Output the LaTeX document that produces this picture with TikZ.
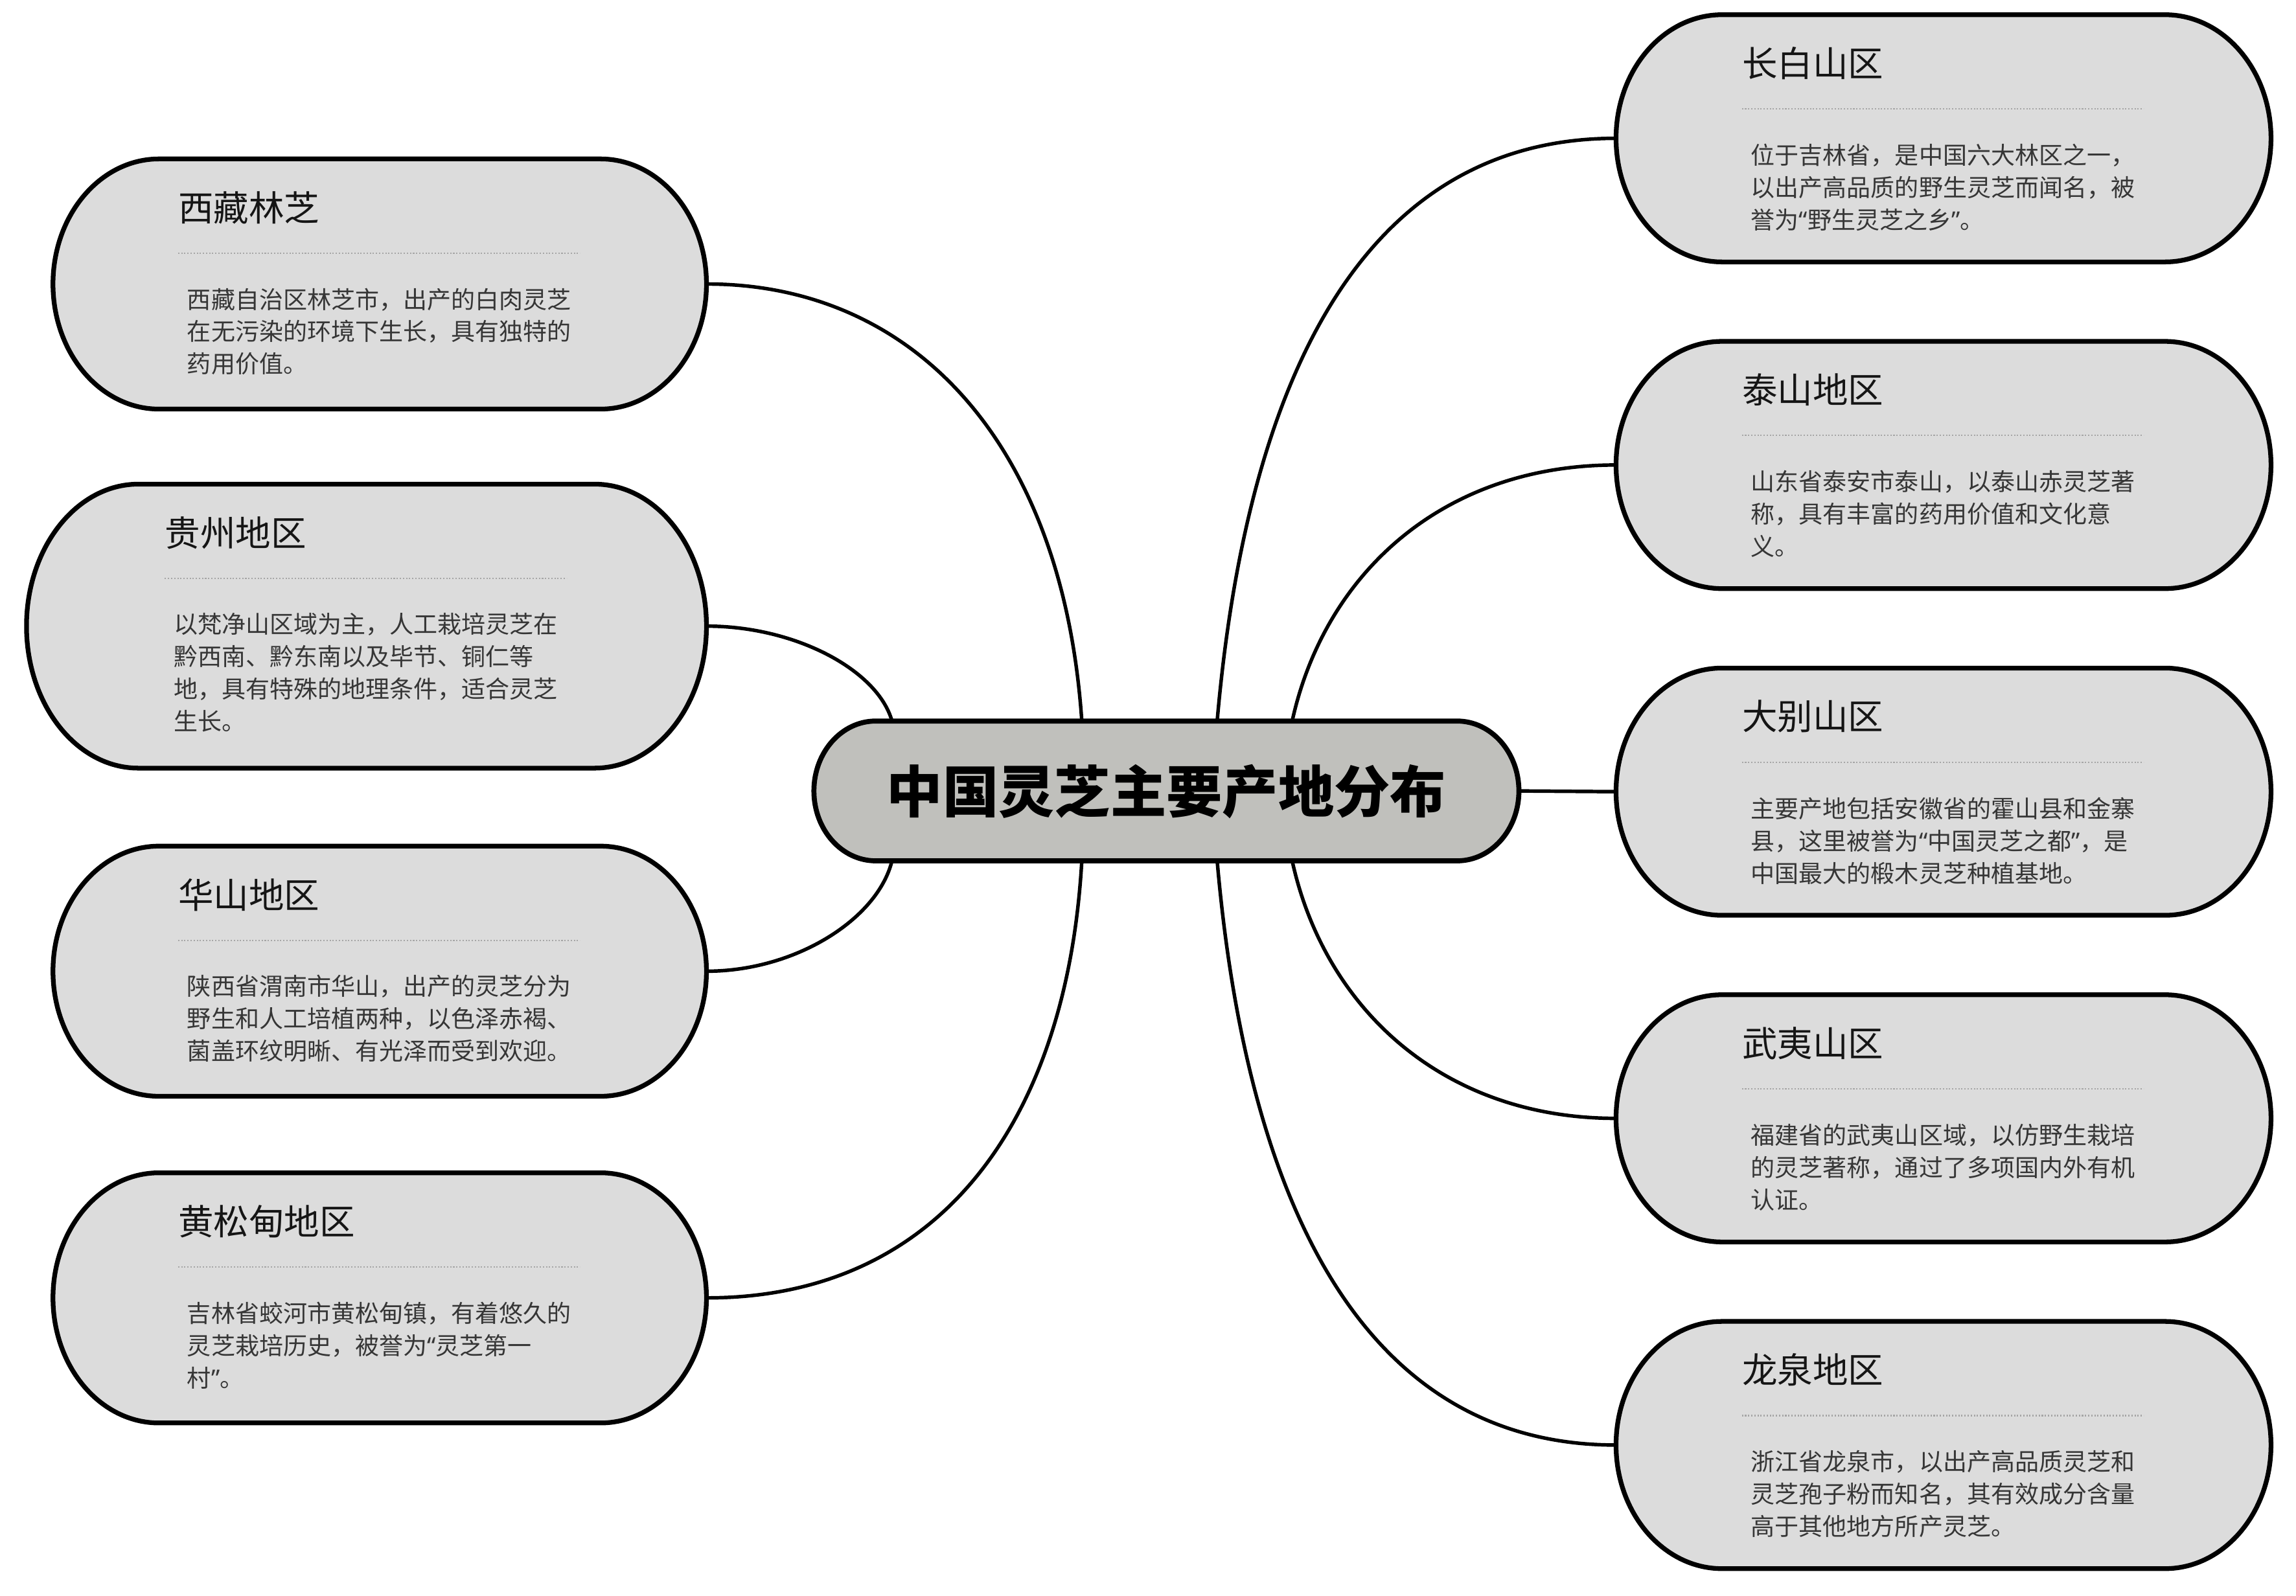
\documentclass[tikz,border=0pt]{standalone}
\usepackage{fontspec}
\setmainfont{Noto Sans CJK SC}
\newfontfamily\quotefont{Noto Sans}
\newcommand\lqm{{\quotefont “}}
\newcommand\rqm{{\quotefont ”}}
\definecolor{boxfill}{HTML}{DCDCDC}
\definecolor{cfill}{HTML}{C0C0BC}
\definecolor{bodycol}{HTML}{363636}
\definecolor{titlecol}{HTML}{151515}
\definecolor{dotcol}{HTML}{A5A5A5}
\tikzset{
  boxline/.style={draw=black, line width=3.2pt, fill=boxfill},
  centerline/.style={draw=black, line width=3.4pt, fill=cfill},
  conn/.style={draw=black, line width=2.4pt},
  anchorbox/.style={draw=none, inner sep=0pt, shape=rectangle},
  titletext/.style={font=\fontsize{24}{28}\selectfont, text=titlecol, inner sep=0pt, anchor=west},
  bodytext/.style={font=\fontsize{16.3}{22}\selectfont, text=bodycol, inner sep=0pt, anchor=north west, align=left},
  dotline/.style={draw=dotcol, line width=0.9pt, dash pattern=on 0.9pt off 1.2pt},
  maintext/.style={font=\fontsize{38}{44}\selectfont\bfseries, text=black, inner sep=0pt},
}
% name, style, x1, y1, x2, y2, end radius
\newcommand\stadiumbox[7]{%
  \node[anchorbox, minimum width={(#5-#3)*1pt}, minimum height={(#6-#4)*1pt}] (#1) at ({(#3+#5)/2},{-(#4+#6)/2}) {};
  \path[#2] ({#3+#7},{-#4}) -- ({#5-#7},{-#4})
    arc[start angle=90, end angle=-90, x radius=#7, y radius={(#6-#4)/2}]
    -- ({#3+#7},{-#6})
    arc[start angle=270, end angle=90, x radius=#7, y radius={(#6-#4)/2}]
    -- cycle;
}
% name, centre x, top, title, body
\newcommand\boxtext[5]{%
  \node[titletext] (#1t) at ({#2-137},{-(#3+33)}) {#4};
  \draw[dotline] ({#2-137},{-(#3+64)}) -- ({#2+136},{-(#3+64)});
  \node[bodytext] (#1b) at ({#2-131},{-(#3+87.5)}) {#5};
}
\begin{document}
\begin{tikzpicture}[x=1pt, y=1pt]
\useasboundingbox (0,0) rectangle (1560,-1084.2);

% centre
\stadiumbox{c}{centerline}{553}{490}{1032}{585}{42}
\node[maintext] (ct) at (792.5,-538) {中国灵芝主要产地分布};

% left boxes
\stadiumbox{b1}{boxline}{36}{108}{480}{278}{72}
\boxtext{b1}{258}{108}{西藏林芝}{西藏自治区林芝市，出产的白肉灵芝\\在无污染的环境下生长，具有独特的\\药用价值。}

\stadiumbox{b2}{boxline}{18}{329}{480}{522}{76}
\boxtext{b2}{249}{329}{贵州地区}{以梵净山区域为主，人工栽培灵芝在\\黔西南、黔东南以及毕节、铜仁等\\地，具有特殊的地理条件，适合灵芝\\生长。}

\stadiumbox{b3}{boxline}{36}{575}{480}{745}{72}
\boxtext{b3}{258}{575}{华山地区}{陕西省渭南市华山，出产的灵芝分为\\野生和人工培植两种，以色泽赤褐、\\菌盖环纹明晰、有光泽而受到欢迎。}

\stadiumbox{b4}{boxline}{36}{797}{480}{967}{72}
\boxtext{b4}{258}{797}{黄松甸地区}{吉林省蛟河市黄松甸镇，有着悠久的\\灵芝栽培历史，被誉为\lqm 灵芝第一\\村\rqm 。}

% right boxes
\stadiumbox{r1}{boxline}{1098}{10}{1543}{178}{72}
\boxtext{r1}{1320.5}{10}{长白山区}{位于吉林省，是中国六大林区之一，\\以出产高品质的野生灵芝而闻名，被\\誉为\lqm 野生灵芝之乡\rqm 。}

\stadiumbox{r2}{boxline}{1098}{232}{1543}{400}{72}
\boxtext{r2}{1320.5}{232}{泰山地区}{山东省泰安市泰山，以泰山赤灵芝著\\称，具有丰富的药用价值和文化意\\义。}

\stadiumbox{r3}{boxline}{1098}{454}{1543}{622}{72}
\boxtext{r3}{1320.5}{454}{大别山区}{主要产地包括安徽省的霍山县和金寨\\县，这里被誉为\lqm 中国灵芝之都\rqm ，是\\中国最大的椴木灵芝种植基地。}

\stadiumbox{r4}{boxline}{1098}{676}{1543}{844}{72}
\boxtext{r4}{1320.5}{676}{武夷山区}{福建省的武夷山区域，以仿野生栽培\\的灵芝著称，通过了多项国内外有机\\认证。}

\stadiumbox{r5}{boxline}{1098}{898}{1543}{1066}{72}
\boxtext{r5}{1320.5}{898}{龙泉地区}{浙江省龙泉市，以出产高品质灵芝和\\灵芝孢子粉而知名，其有效成分含量\\高于其他地方所产灵芝。}

% connectors
\draw[conn] ([xshift=-57.5pt]c.north) .. controls (722,-300) and (620,-193) .. (b1.east);
\draw[conn] ([xshift=-186.5pt]c.north) .. controls (596,-455) and (540,-425.5) .. (b2.east);
\draw[conn] ([xshift=-186.5pt]c.south) .. controls (596,-625) and (540,-660) .. (b3.east);
\draw[conn] ([xshift=-57.5pt]c.south) .. controls (725,-760) and (640,-882) .. (b4.east);
\draw[conn] ([xshift=34.5pt]c.north) .. controls (848,-250) and (930,-94) .. (r1.west);
\draw[conn] ([xshift=85.5pt]c.north) .. controls (900,-390) and (980,-316) .. (r2.west);
\draw[conn] (c.east) -- (r3.west);
\draw[conn] ([xshift=85.5pt]c.south) .. controls (900,-685) and (980,-760) .. (r4.west);
\draw[conn] ([xshift=34.5pt]c.south) .. controls (848,-825) and (930,-982) .. (r5.west);
\end{tikzpicture}
\end{document}
